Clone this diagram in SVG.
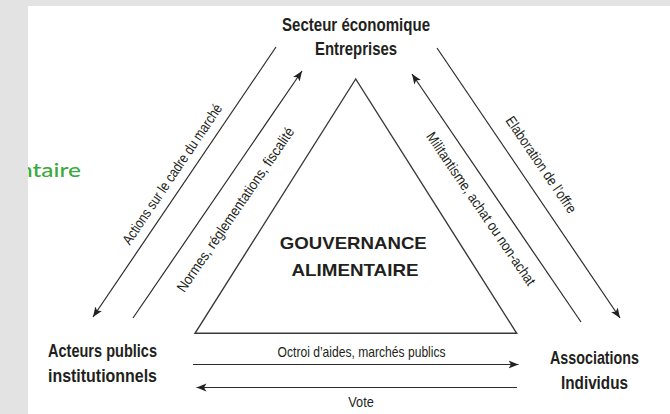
<svg xmlns="http://www.w3.org/2000/svg" width="670" height="414" viewBox="0 0 670 414">
<style>
  .nd { font-family: "Liberation Sans", Arial, sans-serif; font-weight: bold; font-size: 18.5px; fill: #231f20; text-anchor: middle; }
  .ttl { font-family: "Liberation Sans", Arial, sans-serif; font-weight: bold; font-size: 17px; fill: #231f20; text-anchor: middle; }
  .lbl { font-family: "Liberation Sans", Arial, sans-serif; font-size: 14.5px; fill: #231f20; text-anchor: middle; }
  .conn { stroke: #2b2b2b; stroke-width: 1.2; fill: none; }
  .tri { stroke: #3a3a3a; stroke-width: 1.4; fill: #ffffff; stroke-linejoin: miter; }
</style>
<defs>
  <marker id="arr" markerUnits="userSpaceOnUse" markerWidth="11" markerHeight="9" refX="10" refY="4.5" orient="auto">
    <path d="M0,0.5 L10,4.5 L0,8.5 L2.5,4.5 z" fill="#222"/>
  </marker>
  <clipPath id="panel"><rect x="28" y="6" width="642" height="408"/></clipPath>
</defs>

<rect x="0" y="0" width="670" height="414" fill="#e3e3e3"/>
<rect x="28" y="6" width="642" height="408" fill="#ffffff"/>

<g id="title-fragment" clip-path="url(#panel)">
  <text x="19" y="176.7" font-family="Lato, 'Liberation Sans', sans-serif" font-size="20" font-weight="500" fill="#3aaa3c" textLength="62" lengthAdjust="spacingAndGlyphs">ntaire</text>
</g>

<g id="secteur">
  <text class="nd" x="356" y="30.7" textLength="148" lengthAdjust="spacingAndGlyphs">Secteur économique</text>
  <text class="nd" x="356" y="54.5" textLength="82" lengthAdjust="spacingAndGlyphs">Entreprises</text>
</g>

<g id="acteurs">
  <text class="nd" x="102.5" y="357" textLength="109" lengthAdjust="spacingAndGlyphs">Acteurs publics</text>
  <text class="nd" x="102.5" y="382" textLength="109" lengthAdjust="spacingAndGlyphs">institutionnels</text>
</g>

<g id="associations">
  <text class="nd" x="594.5" y="364.3" textLength="89" lengthAdjust="spacingAndGlyphs">Associations</text>
  <text class="nd" x="594.5" y="389" textLength="67" lengthAdjust="spacingAndGlyphs">Individus</text>
</g>

<g id="gouvernance">
  <polygon class="tri" points="355.7,79 195,333.3 516.7,333.3"/>
  <text class="ttl" x="353.3" y="249" textLength="147" lengthAdjust="spacingAndGlyphs">GOUVERNANCE</text>
  <text class="ttl" x="355" y="276" textLength="127" lengthAdjust="spacingAndGlyphs">ALIMENTAIRE</text>
</g>

<g id="connectors">
  <path class="conn" d="M276,47 L93,317" marker-end="url(#arr)"/>
  <path class="conn" d="M133,318 L302,71" marker-end="url(#arr)"/>
  <path class="conn" d="M581,322 L412,74" marker-end="url(#arr)"/>
  <path class="conn" d="M437,48 L620,318" marker-end="url(#arr)"/>
  <path class="conn" d="M193,364.5 L518.5,364.5" stroke-width="1.5" marker-end="url(#arr)"/>
  <path class="conn" d="M517,387.5 L196.5,387.5" marker-end="url(#arr)"/>

  <text class="lbl" transform="translate(176.3,177) rotate(-55.9)" textLength="166" lengthAdjust="spacingAndGlyphs">Actions sur le cadre du marché</text>
  <text class="lbl" transform="translate(239.5,212.5) rotate(-55.6)" textLength="196" lengthAdjust="spacingAndGlyphs">Normes, réglementations, fiscalité</text>
  <text class="lbl" transform="translate(477,211.5) rotate(55.7)" textLength="182" lengthAdjust="spacingAndGlyphs">Militantisme, achat ou non-achat</text>
  <text class="lbl" transform="translate(537.1,167.5) rotate(55.7)" textLength="114" lengthAdjust="spacingAndGlyphs">Elaboration de l’offre</text>
  <text class="lbl" x="361.6" y="356.7" textLength="168" lengthAdjust="spacingAndGlyphs">Octroi d’aides, marchés publics</text>
  <text class="lbl" x="361" y="406.5" textLength="25.5" lengthAdjust="spacingAndGlyphs">Vote</text>
</g>
</svg>
